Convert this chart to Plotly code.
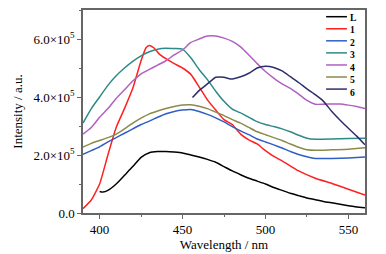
import numpy as np
import plotly.graph_objects as go

# wavelengths (nm) and intensities (units of 1e5 a.u.)
wl_L = [400, 402, 405, 410, 415, 420, 425, 430, 435, 440, 445, 450, 455, 460, 465, 470, 475, 480,
        485, 490, 495, 500, 505, 510, 515, 520, 525, 530, 535, 540, 545, 550, 555, 560]
int_L = [0.74, 0.72, 0.78, 1.0, 1.3, 1.6, 1.92, 2.08, 2.12, 2.12, 2.1, 2.07, 2.0, 1.93, 1.85, 1.75,
         1.6, 1.45, 1.32, 1.2, 1.1, 1.0, 0.88, 0.78, 0.68, 0.6, 0.52, 0.46, 0.4, 0.35, 0.3, 0.25,
         0.21, 0.18]

wl_1 = [390, 395, 400, 405, 410, 415, 420, 425, 428, 430, 433, 436, 440, 445, 450, 455, 460, 465,
        470, 475, 480, 485, 490, 495, 500, 505, 510, 520, 530, 540, 550, 560]
int_1 = [0.15, 0.45, 1.0, 2.0, 2.95, 3.6, 4.3, 5.25, 5.7, 5.78, 5.68, 5.48, 5.32, 5.15, 5.0, 4.78,
         4.35, 3.9, 3.55, 3.22, 3.05, 2.72, 2.52, 2.38, 2.15, 1.95, 1.8, 1.45, 1.2, 1.02, 0.82, 0.62]

wl_std = [390, 395, 400, 405, 410, 415, 420, 425, 430, 435, 440, 445, 450, 455, 460, 465, 470,
          475, 480, 485, 490, 495, 500, 505, 510, 515, 520, 525, 530, 540, 550, 560]
int_2 = [2.02, 2.15, 2.28, 2.45, 2.6, 2.75, 2.9, 3.05, 3.17, 3.3, 3.42, 3.5, 3.55, 3.57, 3.5, 3.4,
         3.28, 3.14, 2.98, 2.83, 2.7, 2.55, 2.45, 2.35, 2.24, 2.12, 2.02, 1.94, 1.88, 1.88, 1.9, 1.93]
int_3 = [3.1, 3.6, 4.0, 4.4, 4.73, 5.0, 5.23, 5.42, 5.56, 5.65, 5.68, 5.67, 5.65, 5.35, 4.95, 4.6,
         4.2, 3.85, 3.58, 3.45, 3.3, 3.15, 3.05, 2.98, 2.9, 2.8, 2.68, 2.58, 2.54, 2.55, 2.57, 2.58]
int_5 = [2.27, 2.4, 2.5, 2.6, 2.72, 2.9, 3.1, 3.27, 3.42, 3.52, 3.6, 3.67, 3.72, 3.73, 3.68, 3.6,
         3.48, 3.36, 3.22, 3.1, 2.95, 2.8, 2.7, 2.6, 2.5, 2.38, 2.27, 2.18, 2.16, 2.18, 2.2, 2.25]

wl_4 = [390, 395, 400, 405, 410, 415, 420, 425, 430, 435, 440, 445, 450, 455, 460, 465, 470, 475,
        480, 485, 490, 495, 500, 505, 510, 515, 520, 525, 530, 535, 540, 545, 550, 555, 560]
int_4 = [2.72, 2.95, 3.3, 3.6, 3.95, 4.25, 4.55, 4.8, 4.95, 5.1, 5.25, 5.45, 5.62, 5.88, 6.0, 6.1,
         6.1, 6.03, 5.92, 5.73, 5.45, 5.15, 4.88, 4.65, 4.45, 4.3, 4.1, 3.88, 3.75, 3.75, 3.76,
         3.76, 3.72, 3.67, 3.6]

wl_6 = [456, 460, 465, 470, 475, 479, 485, 490, 495, 500, 505, 510, 515, 520, 525, 530, 535, 540,
        545, 550, 555, 560]
int_6 = [3.98, 4.22, 4.45, 4.68, 4.68, 4.62, 4.7, 4.82, 5.0, 5.06, 5.02, 4.9, 4.7, 4.5, 4.28, 4.08,
         3.85, 3.5, 3.2, 2.92, 2.65, 2.35]

names = ["L", "1", "2", "3", "4", "5", "6"]
colors = ["#000000", "#ff2020", "#2f5fc4", "#2e8a88", "#b060c0", "#8c8a4a", "#2e2e6e"]

x_ticks = [400, 450, 500, 550]
y_ticks = [0, 2e5, 4e5, 6e5]
y_ticktext = ["0.0", "2.0×10<sup>5</sup>", "4.0×10<sup>5</sup>", "6.0×10<sup>5</sup>"]

series = [(wl_L, int_L), (wl_1, int_1), (wl_std, int_2), (wl_std, int_3),
          (wl_4, int_4), (wl_std, int_5), (wl_6, int_6)]

font = "Liberation Serif, Times New Roman, serif"

fig = go.Figure()
for (xs, ys), n, c in zip(series, names, colors):
    fig.add_trace(go.Scatter(x=xs, y=np.array(ys) * 1e5, mode="lines", name=n, showlegend=False,
                             line=dict(color=c, width=1.5, shape="spline", smoothing=0.5)))

# compact legend (top-right, inside the frame): line samples + one multi-line label block
leg_font = 9.6
plot_h = 254 - 8 - 36
leg_step = leg_font * 1.3 / plot_h
leg_top = 0.967
shapes = []
for i, c in enumerate(colors):
    yy = leg_top - i * leg_step
    shapes.append(dict(type="line", xref="paper", yref="paper", x0=0.862, x1=0.936, y0=yy, y1=yy,
                       line=dict(color=c, width=1.5)))
annotations = [dict(xref="paper", yref="paper", x=0.945, y=leg_top + leg_step / 2,
                    xanchor="left", yanchor="top", align="left", borderpad=0,
                    text="<br>".join("<b>%s</b>" % n for n in names), showarrow=False,
                    font=dict(family=font, size=leg_font, color="black"))]

fig.update_layout(
    width=386, height=254,
    margin=dict(l=83, r=21, t=8, b=36),
    paper_bgcolor="white", plot_bgcolor="white",
    font=dict(family=font, size=13, color="black"),
    showlegend=False,
    shapes=shapes, annotations=annotations,
)
fig.update_xaxes(range=[390, 560], tickvals=x_ticks, ticks="outside", ticklen=4,
                 showline=True, linecolor="#666", linewidth=1.5, mirror=True,
                 showgrid=False, zeroline=False,
                 minor=dict(dtick=25, tick0=0, ticks="outside", ticklen=2, tickcolor="#666"),
                 tickcolor="#666", tickfont=dict(size=13),
                 title=dict(text="Wavelength / nm", standoff=0, font=dict(size=13)))
fig.update_yaxes(range=[0, 7e5], tickvals=y_ticks, ticktext=y_ticktext, ticks="outside", ticklen=4,
                 showline=True, linecolor="#666", linewidth=1.5, mirror=True,
                 showgrid=False, zeroline=False,
                 minor=dict(dtick=1e5, tick0=0, ticks="outside", ticklen=2, tickcolor="#666"),
                 tickcolor="#666", tickfont=dict(size=13),
                 title=dict(text="Intensity / a.u.", standoff=8, font=dict(size=13)))

fig.write_html("out.html", config={"displayModeBar": False},
               post_script="document.body.style.margin='0';")
